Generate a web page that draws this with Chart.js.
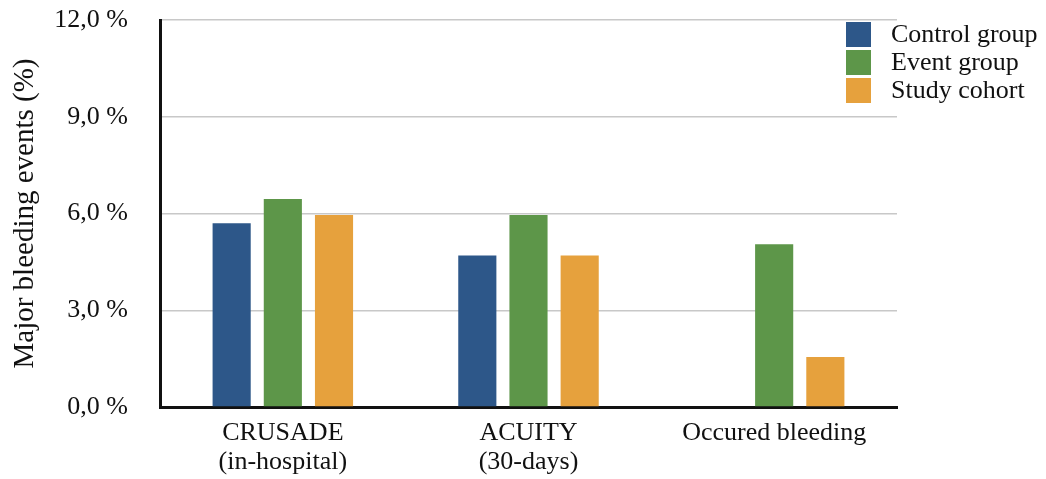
<!DOCTYPE html>
<html>
<head>
<meta charset="utf-8">
<script src="https://cdn.jsdelivr.net/npm/chart.js@4.4.1/dist/chart.umd.min.js"></script>
<style>
  html, body { margin: 0; padding: 0; background: #fff; }
  #wrap { width: 1046px; height: 479px; }
</style>
</head>
<body>
<div id="wrap"><canvas id="chart" width="1046" height="479"></canvas></div>
<script>
  // Data
  const categories = [['CRUSADE', '(in-hospital)'], ['ACUITY', '(30-days)'], 'Occured bleeding'];
  const seriesNames = ['Control group', 'Event group', 'Study cohort'];
  const controlGroup = [5.7, 4.7, null];
  const eventGroup = [6.45, 5.95, 5.05];
  const studyCohort = [5.95, 4.7, 1.55];
  const yTicks = [0, 3, 6, 9, 12];

  const colors = ['#2d5789', '#5d9649', '#e6a13d'];
  const serif = '"Liberation Serif", "Times New Roman", serif';

  Chart.defaults.font.family = serif;
  Chart.defaults.color = '#111';

  // legend drawn inside the plot, top right, like the reference
  const cornerLegend = {
    id: 'cornerLegend',
    afterDraw(chart) {
      const ctx = chart.ctx;
      ctx.save();
      ctx.font = '26px ' + serif;
      ctx.textBaseline = 'middle';
      chart.data.datasets.forEach((ds, i) => {
        const y = 22 + i * 28;
        ctx.fillStyle = ds.backgroundColor;
        ctx.fillRect(846, y, 25, 25);
        ctx.fillStyle = '#111';
        ctx.fillText(ds.label, 891, y + 13);
      });
      ctx.restore();
    }
  };

  new Chart(document.getElementById('chart'), {
    type: 'bar',
    data: {
      labels: categories,
      datasets: [controlGroup, eventGroup, studyCohort].map((d, i) => ({
        label: seriesNames[i],
        data: d,
        backgroundColor: colors[i],
        categoryPercentage: 0.625,
        barPercentage: 0.745
      }))
    },
    options: {
      responsive: false,
      animation: false,
      layout: { padding: { left: 0, right: 149, top: 20, bottom: 0 } },
      plugins: { legend: { display: false }, tooltip: { enabled: false } },
      scales: {
        x: {
          grid: { display: false, drawTicks: false },
          border: { color: '#111', width: 3 },
          ticks: { font: { size: 26, lineHeight: 1.1 }, padding: 12, maxRotation: 0 },
          afterFit: s => { s.height = 72; s.paddingLeft = 0; s.paddingRight = 0; }
        },
        y: {
          min: 0,
          max: 12,
          afterBuildTicks: s => { s.ticks = yTicks.map(v => ({ value: v })); },
          grid: { color: '#c8c8c8', lineWidth: 1.5, drawTicks: false },
          border: { color: '#111', width: 3 },
          ticks: {
            font: { size: 26 },
            padding: 32,
            callback: v => v.toFixed(1).replace('.', ',') + ' %'
          },
          title: {
            display: true,
            text: 'Major bleeding events (%)',
            font: { size: 29 },
            padding: { top: 8, bottom: 0 }
          },
          afterFit: s => { s.width = 160; s.paddingTop = 0; s.paddingBottom = 0; }
        }
      }
    },
    plugins: [cornerLegend]
  });
</script>
</body>
</html>
